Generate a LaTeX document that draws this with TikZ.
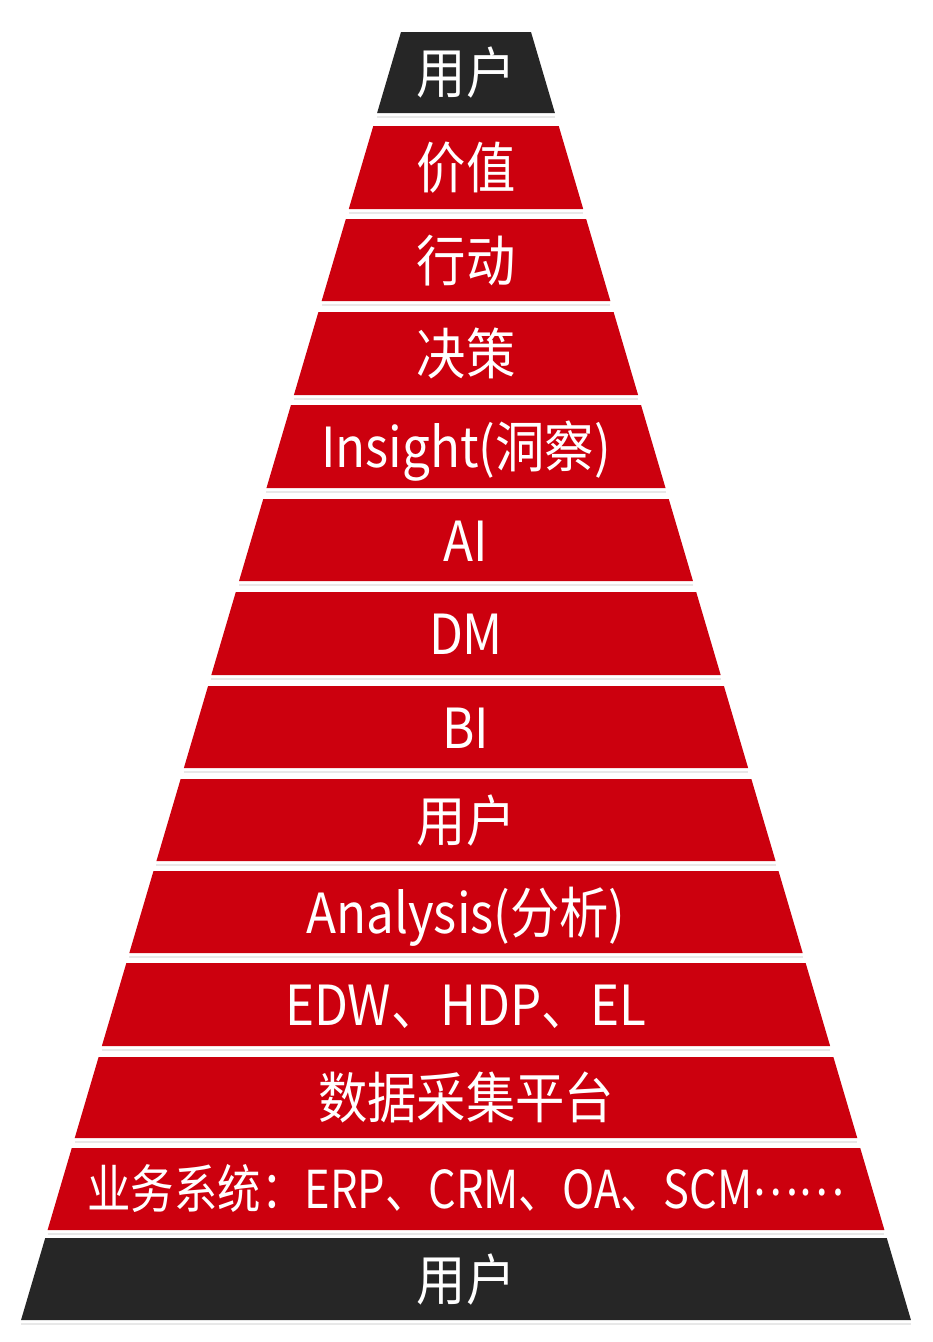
\documentclass[tikz,border=0pt]{standalone}
\usepackage{fontspec}
\setmainfont{Noto Sans CJK SC}
\definecolor{bandred}{RGB}{204,0,14}
\definecolor{bandblack}{RGB}{38,38,38}
\definecolor{gapline}{RGB}{232,232,232}
\begin{document}
\begin{tikzpicture}[x=0.75pt,y=-0.75pt,
  lbl/.style={text=white,font=\fontsize{37}{40}\selectfont,inner sep=0pt,text height=32.6pt,text depth=4.4pt,yscale=1.12},
  lblnarrow/.style={text=white,font=\fontsize{35}{38}\selectfont,inner sep=0pt,text height=30.8pt,text depth=4.2pt,xscale=0.93,yscale=1.12}]
\fill[white] (0,0) rectangle (932,1342);
\useasboundingbox (0,0) rectangle (932,1342);
\foreach \t/\b/\lab/\col/\st/\n in {
  32/113/用户/bandblack/lbl/n1,
  126/209/价值/bandred/lbl/n2,
  219/301/行动/bandred/lbl/n3,
  312/395/决策/bandred/lbl/n4,
  405/488/Insight(洞察)/bandred/lbl/n5,
  499/581/AI/bandred/lbl/n6,
  592/675/DM/bandred/lbl/n7,
  686/768/BI/bandred/lbl/n8,
  779/861/用户/bandred/lbl/n9,
  871/953/Analysis(分析)/bandred/lbl/n10,
  963/1046/EDW、HDP、EL/bandred/lbl/n11,
  1057/1138/数据采集平台/bandred/lbl/n12,
  1148/1230/业务系统：ERP、CRM、OA、SCM\raisebox{0.25em}{……}/bandred/lblnarrow/n13,
  1238/1320/用户/bandblack/lbl/n14}{
  \pgfmathsetmacro\wt{65+0.295*(\t-32)}
  \pgfmathsetmacro\wb{65+0.295*(\b-32)}
  \pgfmathsetmacro\ym{(\t+\b)/2}
  \pgfmathsetmacro\yg{\b+4}
  \fill[\col] (466-\wt,\t) -- (466+\wt,\t) -- (466+\wb,\b) -- (466-\wb,\b) -- cycle;
  \draw[gapline,line width=1.5pt] (466-\wb,\yg) -- (466+\wb,\yg);
  \node[\st] (\n) at (466,\ym) {\lab};
}
\end{tikzpicture}
\end{document}
